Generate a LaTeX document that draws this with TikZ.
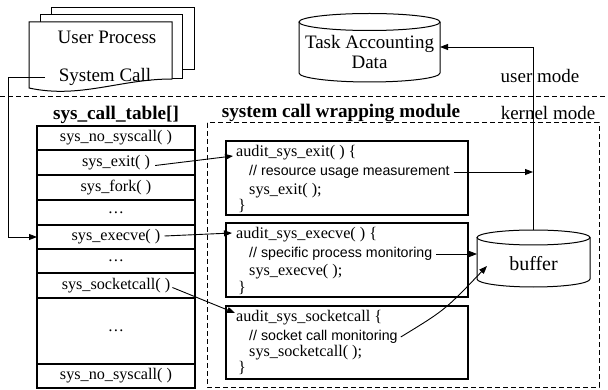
\documentclass[tikz,border=0pt]{standalone}
\usepackage{fontspec}
\setmainfont{Liberation Serif}
\newfontfamily\serf{Liberation Serif}
\newfontfamily\sansf{Liberation Sans}
\usetikzlibrary{arrows.meta}
\begin{document}
\begin{tikzpicture}[x=1pt,y=-1pt,
  tabtxt/.style={font=\serf\fontsize{16.2}{18}\selectfont, inner sep=1pt},
  rowbox/.style={draw, line width=1.1pt, minimum width=158pt, inner sep=0pt, outer sep=0pt},
  code/.style={font=\serf\fontsize{16.2}{18}\selectfont, anchor=west, inner sep=1pt},
  cmt/.style={font=\sansf\fontsize{14.2}{16}\selectfont, anchor=west, inner sep=1pt},
  lbl/.style={font=\serf\fontsize{19}{20}\selectfont, align=center, inner sep=1pt},
  ttl/.style={font=\serf\bfseries\fontsize{19.2}{20}\selectfont, inner sep=1pt},
  arr/.style={line width=0.9pt, -{Triangle[length=8pt,width=6pt]}},
  dsh/.style={line width=1pt, dash pattern=on 5pt off 3pt},
  codebox/.style={draw, line width=1.3pt, minimum width=242pt, inner sep=0pt, outer sep=0pt},
  shp/.style={line width=1pt, fill=white},
]
\useasboundingbox (0,0) rectangle (608,390);

% user process stack
\draw[shp] (51,8) rectangle (194,70);
\draw[shp] (40,15) rectangle (182,79);
\draw[shp] (29,22) -- (172,22) -- (172,79) .. controls (120,79) and (80,99) .. (29,88) -- cycle;
\node[lbl] (up) at (107,37) {User Process};
\node[lbl] (sc) at (105,77) {System Call};
\coordinate (scL) at (45,77);

% user/kernel boundary
\draw[dsh] (0,97) -- (608,97);

% task accounting data cylinder
\draw[shp] (299,22) -- (299,73) arc[start angle=180, end angle=0, x radius=70.5, y radius=9] -- (440,22);
\draw[line width=1pt] (369.5,22) ellipse [x radius=70.5, y radius=8.5];
\node[lbl] (tad) at (369.5,52) {Task Accounting\\Data};
\coordinate (tadE) at (440,47);

% system call table
\node[ttl] (tabt) at (116,115) {sys\_call\_table[]};
\node[rowbox, minimum height=24pt] (r1) at (116,138) {};
\node[rowbox, minimum height=25pt] (r2) at (116,162.5) {};
\node[rowbox, minimum height=25pt] (r3) at (116,187.5) {};
\node[rowbox, minimum height=25pt] (r4) at (116,212.5) {};
\node[rowbox, minimum height=24pt] (r5) at (116,237) {};
\node[rowbox, minimum height=24pt] (r6) at (116,261) {};
\node[rowbox, minimum height=25pt] (r7) at (116,285.5) {};
\node[rowbox, minimum height=66pt] (r8) at (116,331) {};
\node[rowbox, minimum height=24pt] (r9) at (116,376) {};
\node[tabtxt] (t1) at (r1.center) {sys\_no\_syscall( )};
\node[tabtxt] (t2) at (r2.center) {sys\_exit( )};
\node[tabtxt] (t3) at (r3.center) {sys\_fork( )};
\node[tabtxt] (t4) at (r4.center) {\dots};
\node[tabtxt] (t5) at (r5.center) {sys\_execve( )};
\node[tabtxt] (t6) at (r6.center) {\dots};
\node[tabtxt] (t7) at (r7.center) {sys\_socketcall( )};
\node[tabtxt] (t8) at (r8.center) {\dots};
\node[tabtxt] (t9) at (r9.center) {sys\_no\_syscall( )};

% wrapping module
\draw[dsh] (207,123) rectangle (599,387);
\node[ttl] (wmt) at (341,113) {system call wrapping module};
\node[lbl] (km) at (548,113) {kernel mode};
\node[lbl] (um) at (540,76) {user mode};

\node[codebox, minimum height=74pt] (b1) at (347,178) {};
\node[codebox, minimum height=74pt] (b2) at (347,260) {};
\node[codebox, minimum height=73pt] (b3) at (347,342.5) {};

\node[code] (a1) at (235,153) {audit\_sys\_exit( ) \{};
\node[cmt]  (c1) at (248,172) {// resource usage measurement};
\node[code] (s1) at (248,191) {sys\_exit( );};
\node[code] (e1) at (237,206) {\}};

\node[code] (a2) at (235,235) {audit\_sys\_execve( ) \{};
\node[cmt]  (c2) at (248,254) {// specific process monitoring};
\node[code] (s2) at (248,272) {sys\_execve( );};
\node[code] (e2) at (237,288) {\}};

\node[code] (a3) at (235,318) {audit\_sys\_socketcall \{};
\node[cmt]  (c3) at (248,337) {// socket call monitoring};
\node[code] (s3) at (248,353) {sys\_socketcall( );};
\node[code] (e3) at (237,368) {\}};

% buffer cylinder
\draw[shp] (477,237.5) -- (477,279) arc[start angle=180, end angle=0, x radius=56.5, y radius=8] -- (590,237.5);
\draw[line width=1pt] (533.5,237.5) ellipse [x radius=56.5, y radius=7.5];
\node[lbl, font=\serf\fontsize{20}{22}\selectfont] (buf) at (533.5,264) {buffer};
\coordinate (bufT) at (533,230);
\coordinate (bufL) at (477,255);
\coordinate (bufP) at (487,266);

% connectors
\draw[arr] (scL) -- (8,77) |- (r5.west);
\draw[arr] ([shift={(4,3)}]t2.east) -- ([shift={(-2,3)}]a1.west);
\draw[arr] ([shift={(3,-1)}]t5.east) -- ([shift={(-3,-2)}]a2.west);
\draw[arr] ([shift={(1,2)}]t7.east) -- ([shift={(0,-5)}]a3.west);
\draw[arr] (bufT) |- (tadE);
\draw[arr] ([xshift=3pt]c1.east) -- (c1.east -| bufT);
\draw[arr] ([xshift=3pt]c2.east) -- (c2.east -| bufL);
\draw[arr] ([xshift=2pt]c3.east) .. controls (445,310) .. (bufP);
\end{tikzpicture}
\end{document}
